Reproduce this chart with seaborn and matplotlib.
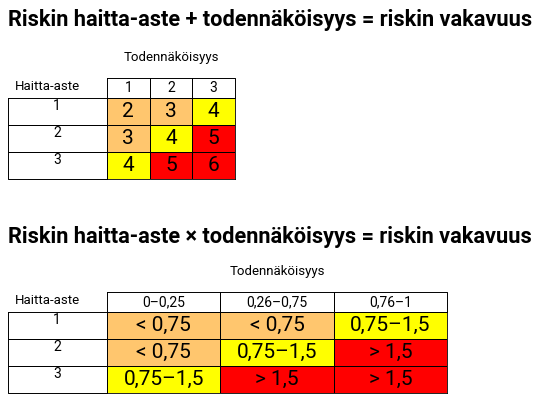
import numpy as np
import matplotlib
matplotlib.use("Agg")
import matplotlib.pyplot as plt
import seaborn as sns
from matplotlib.colors import ListedColormap

plt.rcParams["font.family"] = ["Roboto", "DejaVu Sans"]

ORANGE = "#FFC66E"
YELLOW = "#FFFF00"
RED = "#FF0000"

title1 = "Riskin haitta-aste + todennäköisyys = riskin vakavuus"
title2 = "Riskin haitta-aste × todennäköisyys = riskin vakavuus"
col_title = "Todennäköisyys"
row_title = "Haitta-aste"
rows = ["1", "2", "3"]
cols1 = ["1", "2", "3"]
cols2 = ["0–0,25", "0,26–0,75", "0,76–1"]
values1 = [["2", "3", "4"], ["3", "4", "5"], ["4", "5", "6"]]
levels1 = [[0, 0, 1], [0, 1, 2], [1, 2, 2]]
values2 = [["< 0,75", "< 0,75", "0,75–1,5"],
           ["< 0,75", "0,75–1,5", "> 1,5"],
           ["0,75–1,5", "> 1,5", "> 1,5"]]
levels2 = [[0, 0, 1], [0, 1, 2], [1, 2, 2]]

W, H = 543, 400
fig = plt.figure(figsize=(W / 100, H / 100), dpi=100)
ov = fig.add_axes([0, 0, 1, 1])
ov.set_xlim(0, W)
ov.set_ylim(H, 0)
ov.axis("off")
cmap = ListedColormap([ORANGE, YELLOW, RED])


def box(x0, x1, y0, y1):
    ov.plot([x0, x1, x1, x0, x0], [y0, y0, y1, y1, y0], color="black", lw=0.7)


def table(title, ty, cols, values, levels, x0, x1, yh, y0, y1):
    ov.text(8, ty, title, fontsize=15.7, fontweight="bold", va="center", ha="left")
    ov.text((x0 + x1) / 2, yh - 21, col_title, fontsize=9.5, ha="center", va="center")
    ov.text(47, yh + 9, row_title, fontsize=9.5, ha="center", va="center")
    cw = (x1 - x0) / len(cols)
    for i, c in enumerate(cols):
        box(x0 + i * cw, x0 + (i + 1) * cw, yh, y0)
        ov.text(x0 + (i + 0.5) * cw, yh + 10, c, fontsize=10, ha="center", va="center")
    rh = (y1 - y0) / len(rows)
    for j, r in enumerate(rows):
        box(8, x0, y0 + j * rh, y0 + (j + 1) * rh)
        ov.text(57, y0 + j * rh + 8, r, fontsize=10, ha="center", va="center")
    ax = fig.add_axes([x0 / W, (H - y1) / H, (x1 - x0) / W, (y1 - y0) / H])
    sns.heatmap(np.array(levels), ax=ax, cmap=cmap, vmin=-0.5, vmax=2.5, cbar=False,
                annot=np.array(values), fmt="", linewidths=0.7, linecolor="black",
                annot_kws={"fontsize": 15, "color": "black"},
                xticklabels=False, yticklabels=False)
    for s in ax.spines.values():
        s.set_visible(True)
        s.set_linewidth(0.6)


table(title1, 20, cols1, values1, levels1, 107, 235, 78, 98, 179)
table(title2, 237, cols2, values2, levels2, 107, 447, 292, 312, 393)

fig.savefig("out.png", dpi=100, facecolor="white")
